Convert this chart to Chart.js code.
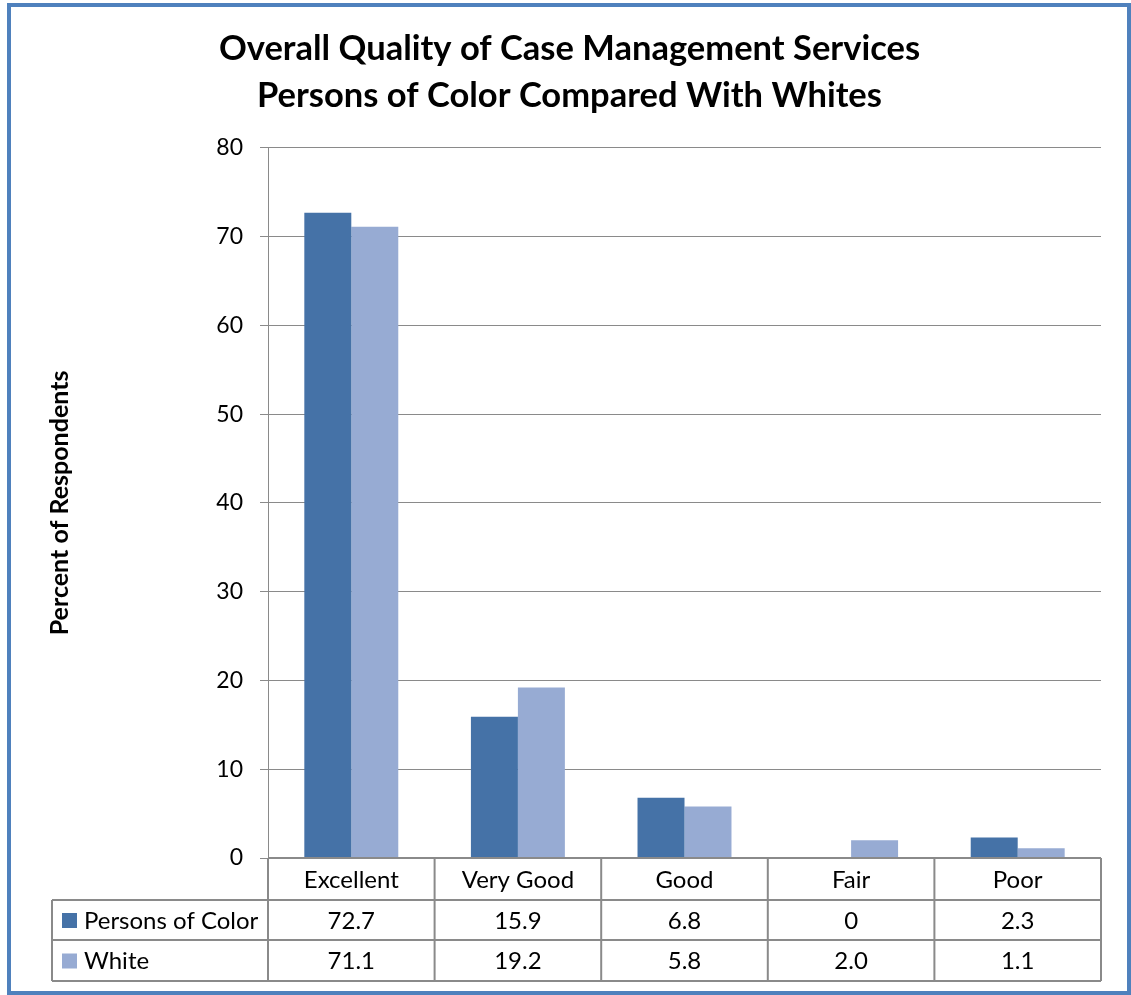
<!DOCTYPE html>
<html><head><meta charset="utf-8">
<script src="https://cdn.jsdelivr.net/npm/chart.js@4.4.1/dist/chart.umd.min.js"></script>
<style>html,body{margin:0;padding:0;background:#fff}canvas{display:block}</style>
</head><body>
<canvas id="c" width="1131" height="995"></canvas>
<script>
const titleLines = ['Overall Quality of Case Management Services', 'Persons of Color Compared With Whites'];
const yAxisTitle = 'Percent of Respondents';
const categories = ['Excellent', 'Very Good', 'Good', 'Fair', 'Poor'];
const seriesNames = ['Persons of Color', 'White'];
const personsOfColor = [72.7, 15.9, 6.8, 0, 2.3];
const white = [71.1, 19.2, 5.8, 2.0, 1.1];
const personsOfColorText = ['72.7', '15.9', '6.8', '0', '2.3'];
const whiteText = ['71.1', '19.2', '5.8', '2.0', '1.1'];
const yTickMin = 0, yTickMax = 80, yTickStep = 10;

const FONT = 'Lato, "Open Sans", sans-serif';
const COLORS = ['#4572A7', '#97ABD3'];
const LINE = '#8a8a8a';

const tablePlugin = {
  id: 'dataTable',
  beforeDraw(chart) {
    const ctx = chart.ctx;
    ctx.save();
    ctx.fillStyle = '#fff';
    ctx.fillRect(0, 0, chart.width, chart.height);
    ctx.restore();
  },
  afterDraw(chart) {
    const ctx = chart.ctx;
    const {left, right, bottom} = chart.chartArea;
    const xs = chart.scales.x;
    const n = categories.length;
    const colW = (right - left) / n;
    const rowY = [bottom, bottom + 42, bottom + 82, bottom + 123];
    const tableLeft = 52;
    ctx.save();
    ctx.strokeStyle = LINE;
    ctx.lineWidth = 2;
    ctx.beginPath();
    ctx.moveTo(left, rowY[0]); ctx.lineTo(right, rowY[0]);
    for (let r = 1; r < rowY.length; r++) {
      ctx.moveTo(tableLeft, rowY[r]); ctx.lineTo(right, rowY[r]);
    }
    for (let i = 0; i <= n; i++) {
      const x = left + i * colW;
      ctx.moveTo(x, rowY[0]); ctx.lineTo(x, rowY[3]);
    }
    ctx.moveTo(tableLeft, rowY[1]); ctx.lineTo(tableLeft, rowY[3]);
    ctx.stroke();

    ctx.fillStyle = '#000';
    ctx.font = '24px ' + FONT;
    ctx.textAlign = 'center';
    ctx.textBaseline = 'middle';
    const rowsText = [personsOfColorText, whiteText];
    for (let i = 0; i < n; i++) {
      const cx = xs.getPixelForValue(i);
      ctx.fillText(categories[i], cx, (rowY[0] + rowY[1]) / 2 + 1);
      for (let r = 0; r < rowsText.length; r++) {
        ctx.fillText(rowsText[r][i], cx, (rowY[r + 1] + rowY[r + 2]) / 2 + 1);
      }
    }
    ctx.textAlign = 'left';
    for (let r = 0; r < seriesNames.length; r++) {
      const cy = (rowY[r + 1] + rowY[r + 2]) / 2;
      ctx.fillStyle = COLORS[r];
      ctx.fillRect(62, cy - 7, 15, 15);
      ctx.fillStyle = '#000';
      ctx.fillText(seriesNames[r], 84, cy + 1);
    }
    ctx.strokeStyle = '#4F81BD';
    ctx.lineWidth = 4;
    ctx.strokeRect(9, 5, 1120, 988);
    ctx.restore();
  }
};

new Chart(document.getElementById('c'), {
  type: 'bar',
  data: {
    labels: categories,
    datasets: [
      {label: seriesNames[0], data: personsOfColor, backgroundColor: COLORS[0], borderWidth: 0},
      {label: seriesNames[1], data: white, backgroundColor: COLORS[1], borderWidth: 0}
    ]
  },
  options: {
    responsive: false,
    animation: false,
    devicePixelRatio: 1,
    layout: {padding: {left: 38, right: 30, top: 0, bottom: 0}},
    datasets: {bar: {categoryPercentage: 0.564, barPercentage: 1}},
    plugins: {
      legend: {display: false},
      tooltip: {enabled: false},
      title: {
        display: true,
        text: titleLines,
        color: '#000',
        font: {family: FONT, size: 34.5, weight: 'bold', lineHeight: 1.36},
        padding: {top: 25, bottom: 29}
      }
    },
    scales: {
      x: {
        grid: {display: false},
        border: {display: false},
        ticks: {display: false},
        afterFit(s) { s.height = 137; }
      },
      y: {
        min: yTickMin, max: yTickMax,
        ticks: {stepSize: yTickStep, color: '#000', font: {family: FONT, size: 23}, padding: 17},
        grid: {color: LINE, lineWidth: 1, tickLength: 8, drawTicks: true},
        border: {color: LINE, width: 1},
        title: {
          display: true, text: yAxisTitle, color: '#000',
          font: {family: FONT, size: 25, weight: 'bold', lineHeight: 1.2},
          padding: {top: 7, bottom: 0}
        },
        afterFit(s) { s.width = 230; }
      }
    }
  },
  plugins: [tablePlugin]
});
</script>
</body></html>
